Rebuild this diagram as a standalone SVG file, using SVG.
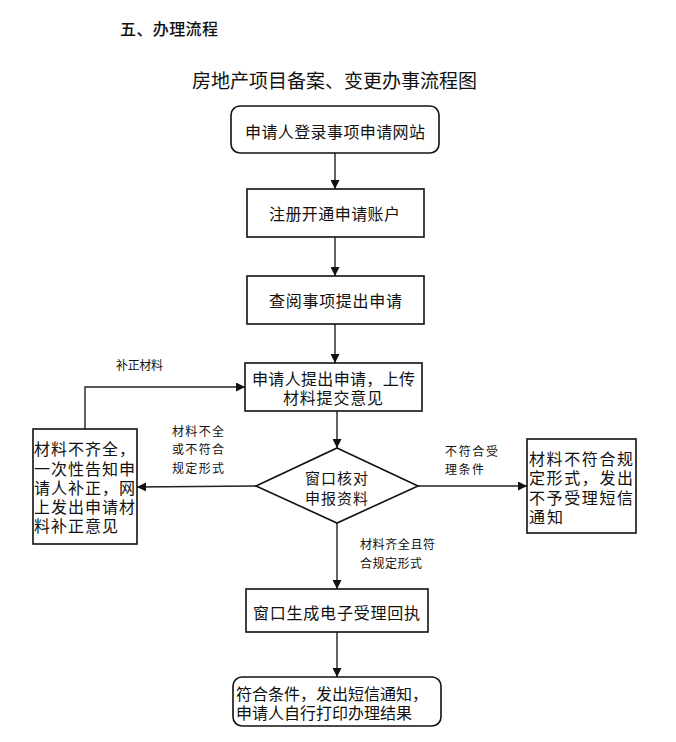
<svg xmlns="http://www.w3.org/2000/svg" width="676" height="742" viewBox="0 0 676 742">
<style>
text{font-family:"Noto Sans CJK SC","Noto Sans",sans-serif;fill:#111;dominant-baseline:central}
.b{fill:#fff;stroke:#111;stroke-width:1.6}
.c{fill:none;stroke:#222;stroke-width:1.4}
.t{font-size:16px}
.s{font-size:12px}
</style>
<defs>
<marker id="a" viewBox="0 0 10 10" refX="10" refY="5" markerWidth="9" markerHeight="9" markerUnits="userSpaceOnUse" orient="auto">
<path d="M0,0L10,5L0,10z" fill="#111"/>
</marker>
</defs>
<text x="120" y="28" style="font-size:16px;font-weight:500" textLength="98" lengthAdjust="spacing">五、办理流程</text>
<text x="192" y="79" style="font-size:19px" textLength="285" lengthAdjust="spacing">房地产项目备案、变更办事流程图</text>
<g id="connectors">
<line class="c" x1="335" y1="153" x2="335" y2="189" marker-end="url(#a)"/>
<line class="c" x1="335" y1="237" x2="335" y2="276" marker-end="url(#a)"/>
<line class="c" x1="335" y1="324" x2="335" y2="363" marker-end="url(#a)"/>
<line class="c" x1="337" y1="411" x2="337" y2="448" marker-end="url(#a)"/>
<line class="c" x1="418" y1="486" x2="527" y2="486" marker-end="url(#a)"/>
<line class="c" x1="256" y1="486" x2="137" y2="487" marker-end="url(#a)"/>
<polyline class="c" points="85,429 85,387 245,387" marker-end="url(#a)"/>
<line class="c" x1="337" y1="523" x2="337" y2="589" marker-end="url(#a)"/>
<line class="c" x1="337" y1="632" x2="337" y2="677" marker-end="url(#a)"/>
<text class="s" x="116" y="364" textLength="47" lengthAdjust="spacing">补正材料</text>
<text class="s" x="172" y="430" textLength="52" lengthAdjust="spacing">材料不全</text>
<text class="s" x="172" y="448" textLength="52" lengthAdjust="spacing">或不符合</text>
<text class="s" x="172" y="467" textLength="52" lengthAdjust="spacing">规定形式</text>
<text class="s" x="445" y="450" textLength="53" lengthAdjust="spacing">不符合受</text>
<text class="s" x="445" y="468" textLength="39" lengthAdjust="spacing">理条件</text>
<text class="s" x="360" y="543" textLength="75" lengthAdjust="spacing">材料齐全且符</text>
<text class="s" x="360" y="562" textLength="62" lengthAdjust="spacing">合规定形式</text>
</g>
<g id="n1">
<rect class="b" x="231" y="106" width="208" height="47" rx="9"/>
<text class="t" x="245" y="131" textLength="180" lengthAdjust="spacing">申请人登录事项申请网站</text>
</g>
<g id="n2">
<rect class="b" x="247" y="189" width="177" height="48"/>
<text class="t" x="269" y="213" textLength="131" lengthAdjust="spacing">注册开通申请账户</text>
</g>
<g id="n3">
<rect class="b" x="247" y="276" width="177" height="48"/>
<text class="t" x="269" y="300" textLength="133" lengthAdjust="spacing">查阅事项提出申请</text>
</g>
<g id="n4">
<rect class="b" x="245" y="363" width="177" height="48"/>
<text class="t" x="252" y="378" textLength="163" lengthAdjust="spacing">申请人提出申请，上传</text>
<text class="t" x="283" y="397" textLength="100" lengthAdjust="spacing">材料提交意见</text>
</g>
<g id="n5">
<polygon class="b" points="337,448 418,486 337,523 256,486"/>
<text x="305" y="477" style="font-size:15px" textLength="63" lengthAdjust="spacing">窗口核对</text>
<text x="305" y="497" style="font-size:15px" textLength="63" lengthAdjust="spacing">申报资料</text>
</g>
<g id="n6">
<rect class="b" x="527" y="439" width="109" height="94"/>
<text class="t" x="529" y="458" textLength="104" lengthAdjust="spacing">材料不符合规</text>
<text class="t" x="529" y="477" textLength="104" lengthAdjust="spacing">定形式，发出</text>
<text class="t" x="529" y="497" textLength="104" lengthAdjust="spacing">不予受理短信</text>
<text class="t" x="529" y="516" textLength="34" lengthAdjust="spacing">通知</text>
</g>
<g id="n7">
<rect class="b" x="33" y="429" width="104" height="115"/>
<text class="t" x="34" y="448" textLength="101" lengthAdjust="spacing">材料不齐全，</text>
<text class="t" x="34" y="468" textLength="101" lengthAdjust="spacing">一次性告知申</text>
<text class="t" x="34" y="487" textLength="101" lengthAdjust="spacing">请人补正，网</text>
<text class="t" x="34" y="506" textLength="101" lengthAdjust="spacing">上发出申请材</text>
<text class="t" x="34" y="525" textLength="84" lengthAdjust="spacing">料补正意见</text>
</g>
<g id="n8">
<rect class="b" x="246" y="589" width="182" height="43"/>
<text class="t" x="253" y="612" textLength="167" lengthAdjust="spacing">窗口生成电子受理回执</text>
</g>
<g id="n9">
<rect class="b" x="233" y="677" width="208" height="49" rx="9"/>
<text class="t" x="236" y="693" textLength="192" lengthAdjust="spacing">符合条件，发出短信通知，</text>
<text class="t" x="236" y="712" textLength="176" lengthAdjust="spacing">申请人自行打印办理结果</text>
</g>
</svg>
